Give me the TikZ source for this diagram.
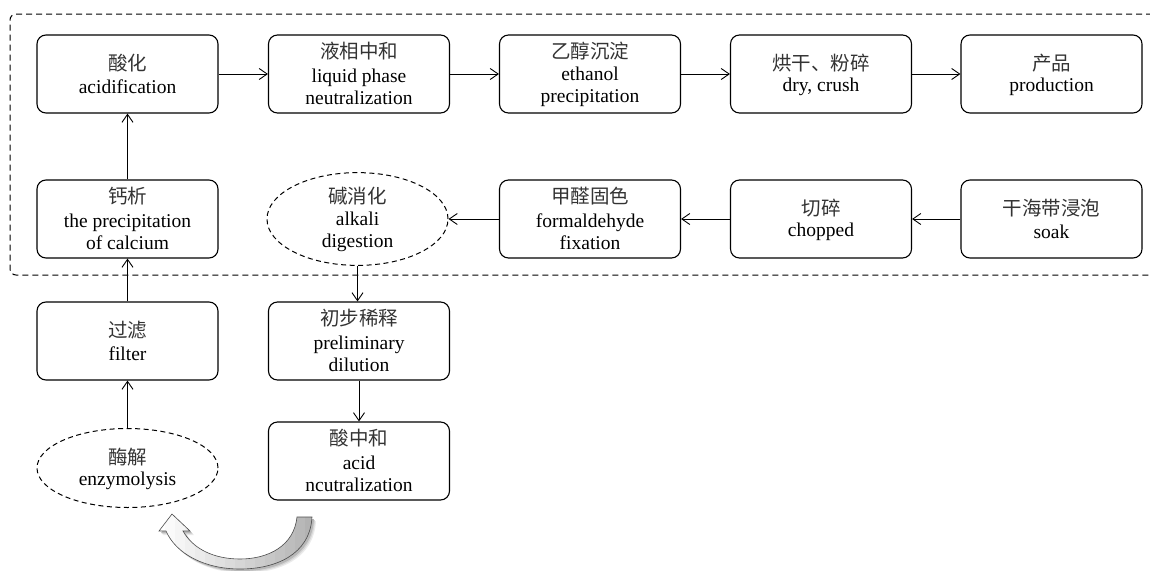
\documentclass[tikz,border=0pt]{standalone}
\usepackage{fontspec}
\newfontfamily\enfont{Liberation Serif}
\newfontfamily\cjkfont{Noto Sans CJK SC}
\newcommand{\zhph}[1]{\phantom{\cjkfont #1}}
\newcommand{\crescentpath}{(312,517) .. controls (310,555) and (275,569) .. (240,569)
  .. controls (205,569) and (176,554) .. (166,531)
  -- (159,531) -- (172,514) -- (190,531) -- (183,531)
  .. controls (193,549) and (214,559) .. (240,559)
  .. controls (268,559) and (294,546) .. (297,517) -- cycle}
\usetikzlibrary{arrows.meta,shapes.geometric}
\tikzset{
  box/.style={draw, rounded corners=9pt, line width=1.1pt, minimum width=181pt, minimum height=78pt, align=center, inner sep=2pt, font=\enfont\fontsize{19.5}{22.5}\selectfont},
  oval/.style={draw, ellipse, dashed, dash pattern=on 5pt off 3.5pt, line width=1pt, minimum width=181pt, minimum height=79pt, align=center, inner sep=0pt, font=\enfont\fontsize{19.5}{22.5}\selectfont},
  zh/.style={font=\cjkfont\fontsize{19.5}{22.5}\selectfont, inner sep=0pt, text=black!80},
  arr/.style={-{Straight Barb[length=8pt,width=11pt]}, line width=0.9pt},
  frame/.style={dashed, dash pattern=on 6pt off 4pt, line width=1pt, rounded corners=6pt}
}
\begin{document}
\begin{tikzpicture}[x=1pt,y=-1pt]
\useasboundingbox (0,0) rectangle (1150,570);
% boxes with English text (Chinese line reserved)
\node[box] (acid) at (127.5,74) {\zhph{酸化}\\acidification};
\node[box] (liq) at (359,74) {\zhph{液相中和}\\liquid phase\\neutralization};
\node[box] (eth) at (590,74) {\zhph{乙醇沉淀}\\ethanol\\precipitation};
\node[box] (dry) at (821,74) {\zhph{烘干、粉碎}\\dry, crush};
\node[box] (prod) at (1051.5,74) {\zhph{产品}\\production};
\node[box] (calc) at (127.5,219) {\zhph{钙析}\\the precipitation\\of calcium};
\node[oval] (alk) at (357.5,219) {\zhph{碱消化}\\alkali\\digestion};
\node[box] (form) at (590,219) {\zhph{甲醛固色}\\formaldehyde\\fixation};
\node[box] (chop) at (821,219) {\zhph{切碎}\\chopped};
\node[box] (soak) at (1051.5,219) {\zhph{干海带浸泡}\\soak};
\node[box] (filt) at (127.5,341) {\zhph{过滤}\\filter};
\node[box] (prel) at (359,341) {\zhph{初步稀释}\\preliminary\\dilution};
\node[oval] (enz) at (127.5,468) {\zhph{酶解}\\enzymolysis};
\node[box] (aneu) at (359,461) {\zhph{酸中和}\\acid\\ncutralization};
% Chinese first lines
\node[zh] (acidzh) at ([yshift=11.25pt]acid.center) {酸化};
\node[zh] (liqzh) at ([yshift=22.5pt]liq.center) {液相中和};
\node[zh] (ethzh) at ([yshift=22.5pt]eth.center) {乙醇沉淀};
\node[zh] (dryzh) at ([yshift=11.25pt]dry.center) {烘干、粉碎};
\node[zh] (prodzh) at ([yshift=11.25pt]prod.center) {产品};
\node[zh] (calczh) at ([yshift=22.5pt]calc.center) {钙析};
\node[zh] (alkzh) at ([yshift=22.5pt]alk.center) {碱消化};
\node[zh] (formzh) at ([yshift=22.5pt]form.center) {甲醛固色};
\node[zh] (chopzh) at ([yshift=11.25pt]chop.center) {切碎};
\node[zh] (soakzh) at ([yshift=11.25pt]soak.center) {干海带浸泡};
\node[zh] (filtzh) at ([yshift=11.25pt]filt.center) {过滤};
\node[zh] (prelzh) at ([yshift=22.5pt]prel.center) {初步稀释};
\node[zh] (enzzh) at ([yshift=11.25pt]enz.center) {酶解};
\node[zh] (aneuzh) at ([yshift=22.5pt]aneu.center) {酸中和};
% dashed frame
\coordinate (ftr) at (1152,14);
\coordinate (ftl) at (10,14);
\coordinate (fbl) at (10,275);
\coordinate (fbr) at (1152,275);
\draw[frame] (ftr) -- (ftl) -- (fbl) -- (fbr);
% connectors
\draw[arr] (acid) -- (liq);
\draw[arr] (liq) -- (eth);
\draw[arr] (eth) -- (dry);
\draw[arr] (dry) -- (prod);
\draw[arr] (soak) -- (chop);
\draw[arr] (chop) -- (form);
\draw[arr] (form) -- (alk);
\draw[arr] (calc) -- (acid);
\draw[arr] (filt) -- (calc);
\draw[arr] (enz) -- (filt);
\draw[arr] (alk.south) -- (alk.south |- prel.north);
\draw[arr] (prel) -- (aneu);
% curved decorative arrow with soft opaque shadow and stepped gradient
\path[fill=black!8, shift={(4,4)}] \crescentpath;
\path[fill=black!16, shift={(3,3)}] \crescentpath;
\path[fill=black!28, shift={(2,2)}] \crescentpath;
\begin{scope}
  \clip \crescentpath;
  \foreach \i in {0,...,16} {
    \pgfmathsetmacro{\shade}{\i*2}
    \fill[black!\shade] (155+\i*10,505) rectangle +(10.6,70);
  }
\end{scope}
\path[draw=black!70, line width=0.6pt] \crescentpath;
\end{tikzpicture}
\end{document}
